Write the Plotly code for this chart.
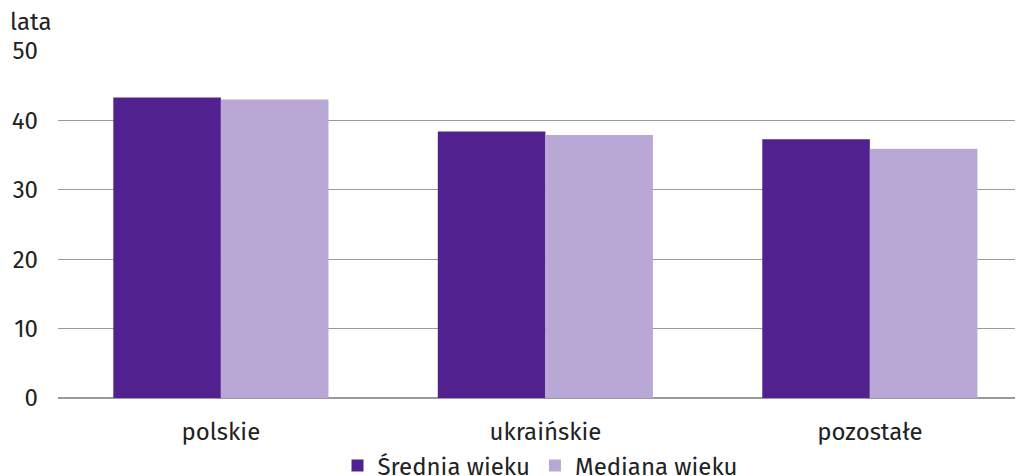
import plotly.graph_objects as go

categories = ["polskie", "ukraińskie", "pozostałe"]
srednia = [43.3, 38.4, 37.3]
mediana = [43.0, 37.9, 35.9]
series_names = ["Średnia wieku", "Mediana wieku"]
y_ticks = [0, 10, 20, 30, 40, 50]

FONT = "Fira Sans, Open Sans, Noto Sans, sans-serif"
FS = 24

fig = go.Figure()
fig.add_trace(go.Bar(x=categories, y=srednia, name=series_names[0],
                     marker=dict(color="#51228F", line=dict(width=0))))
fig.add_trace(go.Bar(x=categories, y=mediana, name=series_names[1],
                     marker=dict(color="#B9A7D5", line=dict(width=0))))

fig.update_layout(
    width=1023, height=476,
    margin=dict(l=50, r=8, t=43, b=85.5, autoexpand=False),
    plot_bgcolor="white", paper_bgcolor="white",
    barmode="group", bargap=0.337, bargroupgap=0,
    font=dict(family=FONT, size=FS, color="#222222"),
    xaxis=dict(range=[-0.502, 2.472], showgrid=False, ticks="",
               showline=False, tickfont=dict(size=FS), ticklabelstandoff=17),
    yaxis=dict(range=[0, 50], tickvals=y_ticks, showgrid=True,
               gridcolor="#9a9a9a", gridwidth=1, zeroline=True,
               zerolinecolor="#9a9a9a", zerolinewidth=1.5,
               ticks="", ticklabelstandoff=19, tickfont=dict(size=FS)),
    legend=dict(orientation="h", x=0.5, xanchor="center",
                yref="container", y=0.038, yanchor="middle",
                font=dict(size=FS), itemwidth=30, tracegroupgap=0),
    annotations=[dict(text="lata", xref="paper", yref="paper", x=-0.052, y=1.083,
                      xanchor="left", yanchor="middle", showarrow=False,
                      font=dict(size=FS))],
)

fig.write_html("out.html")
